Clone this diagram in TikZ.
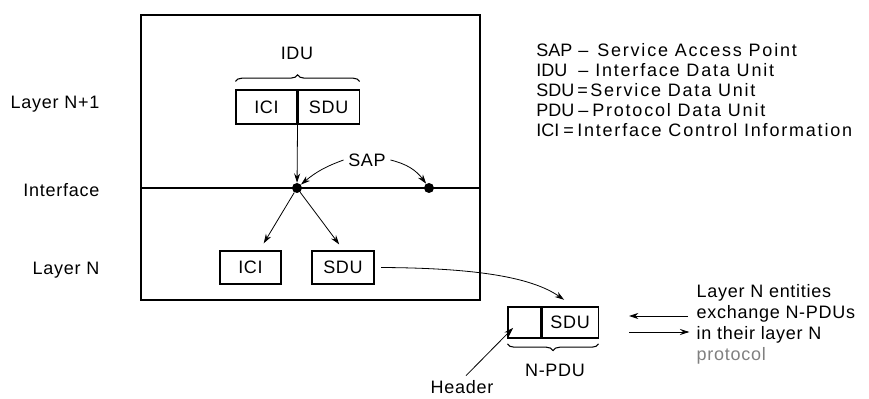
\documentclass[tikz,border=0pt]{standalone}
\usepackage{fontspec}
\setmainfont{Liberation Sans}[LetterSpace=4]
\usetikzlibrary{arrows.meta, positioning, decorations.pathreplacing}

\begin{document}
\begin{tikzpicture}[
    x=0.75pt, y=-0.75pt,
    every node/.style={font=\fontsize{13.5}{15.75}\selectfont},
    cell/.style={rectangle, draw, line width=0.8pt, inner sep=0pt, minimum height=25.5pt},
    sapdot/.style={circle, fill, inner sep=0pt, minimum size=7.5pt},
    arrow/.style={draw, -{Stealth[length=7pt, width=4.5pt]}, line width=0.6pt},
    curly/.style={decorate, decoration={brace, amplitude=5pt}, line width=0.8pt},
    keytext/.style={anchor=base west, inner sep=0pt, font=\fontsize{13.5}{15}\selectfont\addfontfeatures{LetterSpace=0}},
    legendtext/.style={anchor=base west, inner sep=0pt, font=\fontsize{13.5}{15}\selectfont\addfontfeatures{LetterSpace=10}}
]
\useasboundingbox (0,0) rectangle (869,399);

% Layers and the interface between them
\draw[line width=1pt] (141,15) rectangle (480,300);
\draw[line width=1pt] (141,188) -- (480,188);

\node[anchor=east] (upper) at (104,104) {Layer N+1};
\node[anchor=east] (iface) at (104,190) {Interface};
\node[anchor=east] (lower) at (104,270) {Layer N};

% Nodes
\node[cell, minimum width=45.75pt] (ici1) at (266.5,107) {ICI};
\node[cell, minimum width=45.75pt, right=0pt of ici1] (sdu1) {SDU};
\draw[curly] ([yshift=6pt]ici1.north west) -- ([yshift=6pt]sdu1.north east);
\node (idu) at (297,53) {IDU};

\node[sapdot] (sap1) at (297,188) {};
\node[sapdot] (sap2) at (429,188) {};
\node (sap) at (367,160) {SAP};

\node[cell, minimum width=45.75pt, minimum height=24.75pt] (ici2) at (250.5,267.5) {ICI};
\node[cell, minimum width=46.5pt, minimum height=24.75pt] (sdu2) at (343,267.5) {SDU};

\node[cell, minimum width=24.75pt, minimum height=23.25pt] (hdr) at (524.5,322.5) {};
\node[cell, minimum width=42pt, minimum height=23.25pt, right=0pt of hdr] (sdu3) {SDU};
\draw[curly] ([yshift=-4pt]sdu3.south east) -- ([yshift=-4pt]hdr.south west);
\node (npdu) at (555,370) {N-PDU};
\node (header) at (462,387) {Header};

\node[anchor=west, align=left] (entities) at (692,324)
    {Layer N entities\\exchange N-PDUs\\in their layer N\\{\color{gray}protocol}};
\coordinate (peer) at (629,324);

% Connections
\draw[arrow] (ici1.south east) -- (sap1);
\draw[arrow] (sap.west) to[bend right=10] (sap1);
\draw[arrow] (sap.east) to[bend left=20] (sap2);
\draw[arrow, shorten >=1pt] (sap1) -- ([xshift=9.4pt, yshift=4.5pt]ici2.north);
\draw[arrow, shorten >=1pt] (sap1) -- ([xshift=-2.25pt, yshift=3.75pt]sdu2.north);
\draw[arrow] ([xshift=5pt]sdu2.east) .. controls (470,268) and (530,276) .. ([xshift=-4.5pt, yshift=5pt]sdu3.north);
\draw[arrow] ([xshift=3pt]header.north) -- ([xshift=-8.5pt, yshift=-4pt]hdr.center);
\draw[arrow] ([xshift=-3pt, yshift=6pt]entities.west) -- ([yshift=6pt]peer);
\draw[arrow] ([yshift=-6pt]peer) -- ([xshift=-2pt, yshift=-6pt]entities.west);

% Legend
\foreach \abbr/\sign/\full/\sx/\dx [count=\i] in {
    SAP/--/Service Access Point/578/597,
    IDU/--/Interface Data Unit/578/595,
    SDU/=/Service Data Unit/577/590,
    PDU/--/Protocol Data Unit/578/592,
    ICI/=/Interface Control Information/563/577} {
  \node[keytext] (key\i) at (536,37+20*\i) {\abbr};
  \node[keytext] (sign\i) at (\sx,37+20*\i) {\sign};
  \node[legendtext] (def\i) at (\dx,37+20*\i) {\full};
}

\end{tikzpicture}
\end{document}
